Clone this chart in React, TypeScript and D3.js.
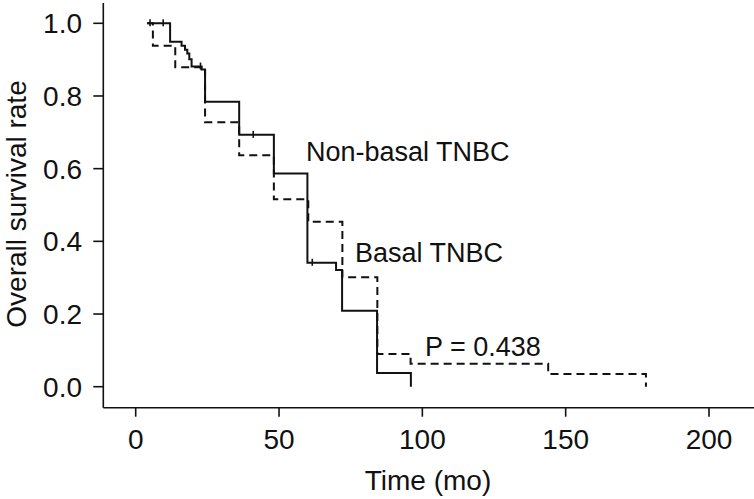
import * as d3 from "d3";

// Kaplan-Meier steps (time in months, survival rate)
const nonBasalTimes = [4, 12, 16, 17.2, 18, 18.7, 19.5, 23, 24.2, 36.1, 48.2, 59.9, 69.9, 72, 84.2, 96];
const nonBasalSurv = [1.0, 0.949, 0.938, 0.927, 0.917, 0.901, 0.881, 0.873, 0.784, 0.693, 0.587, 0.341, 0.321, 0.209, 0.038, 0];
const nonBasalCensored = [5, 9.6, 22.6, 41, 61.6];

const basalTimes = [4, 6, 13.8, 24.2, 36.1, 48.2, 60.2, 72.1, 84.3, 95.9, 143.9, 178];
const basalSurv = [1.0, 0.938, 0.879, 0.728, 0.637, 0.516, 0.454, 0.301, 0.09, 0.063, 0.035, 0];

const xTicks = [0, 50, 100, 150, 200];
const yTicks = [0, 0.2, 0.4, 0.6, 0.8, 1.0];

const width = 754;
const height = 499;
const font = "'Liberation Sans', Arial, sans-serif";

function survAt(times: number[], surv: number[], t: number) {
  let s = surv[0];
  for (let i = 0; i < times.length; i++) if (times[i] <= t) s = surv[i];
  return s;
}

export default function App() {
  const x = d3.scaleLinear().domain([0, 200]).range([135.7, 709]);
  const y = d3.scaleLinear().domain([0, 1]).range([386.7, 23.3]);

  const axisX = 103.3;
  const axisY = 407.7;

  const line = d3
    .line<[number, number]>()
    .x((d) => x(d[0]))
    .y((d) => y(d[1]))
    .curve(d3.curveStepAfter);

  const nonBasal = nonBasalTimes.map((t, i) => [t, nonBasalSurv[i]] as [number, number]);
  const basal = basalTimes.map((t, i) => [t, basalSurv[i]] as [number, number]);

  return (
    <>
      <style>{`body{margin:0}`}</style>
      <svg width={width} height={height} style={{ display: "block", background: "#fff" }} fontFamily={font}>
        {/* axes */}
        <line x1={axisX} x2={axisX} y1={3} y2={axisY} stroke="#111" strokeWidth={1.6} />
        <line x1={axisX} x2={width} y1={axisY} y2={axisY} stroke="#111" strokeWidth={1.6} />

        {yTicks.map((t) => (
          <g key={t}>
            <line x1={axisX - 10} x2={axisX} y1={y(t)} y2={y(t)} stroke="#111" strokeWidth={1.6} />
            <text x={82} y={y(t) + 10} textAnchor="end" fontSize={28} fill="#111">
              {t.toFixed(1)}
            </text>
          </g>
        ))}

        {xTicks.map((t) => (
          <g key={t}>
            <line x1={x(t)} x2={x(t)} y1={axisY} y2={axisY + 9} stroke="#111" strokeWidth={1.6} />
            <text x={x(t)} y={449} textAnchor="middle" fontSize={28} fill="#111">
              {t}
            </text>
          </g>
        ))}

        <text x={428} y={490} textAnchor="middle" fontSize={28} fill="#111">
          Time (mo)
        </text>
        <text
          transform={`translate(26, ${204}) rotate(-90)`}
          textAnchor="middle"
          fontSize={28}
          fill="#111"
        >
          Overall survival rate
        </text>

        {/* curves */}
        <path d={line(basal) ?? ""} fill="none" stroke="#111" strokeWidth={2} strokeDasharray="8,5" />
        <path d={line(nonBasal) ?? ""} fill="none" stroke="#111" strokeWidth={2} />

        {nonBasalCensored.map((t) => {
          const s = survAt(nonBasalTimes, nonBasalSurv, t);
          return (
            <line key={t} x1={x(t)} x2={x(t)} y1={y(s) - 4} y2={y(s) + 3} stroke="#111" strokeWidth={1.6} />
          );
        })}

        {/* annotations */}
        <text x={306} y={161} fontSize={27} fill="#111">
          Non-basal TNBC
        </text>
        <text x={355} y={262} fontSize={27} fill="#111">
          Basal TNBC
        </text>
        <text x={425} y={356} fontSize={27} fill="#111">
          P = 0.438
        </text>
      </svg>
    </>
  );
}
